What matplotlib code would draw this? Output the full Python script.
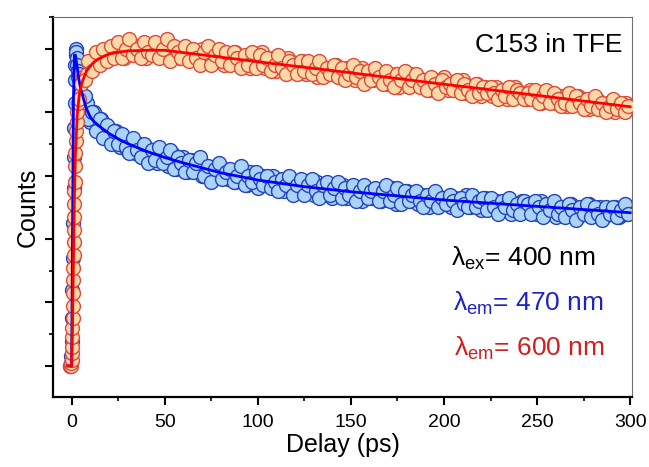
import numpy as np
import matplotlib
matplotlib.use('Agg')
import matplotlib.pyplot as plt
from matplotlib.ticker import MultipleLocator, NullFormatter

plt.rcParams['font.family'] = ['Liberation Sans', 'DejaVu Sans']
plt.rcParams['mathtext.fontset'] = 'custom'
plt.rcParams['mathtext.rm'] = 'Liberation Sans'

# ---- data (normalised counts) ----
# early time points (rise around t = 0)
blue_early_x = [-1.0, -0.6, -0.3, 0.0, 0.2, 0.4, 0.6, 0.8, 1.0, 1.2, 1.4, 1.6, 1.8,
                2.0, 2.2, 2.4, 2.6, 2.8, 3.0, 3.3, 3.6]
blue_early_y = [0.00, 0.01, 0.03, 0.08, 0.15, 0.24, 0.34, 0.45, 0.56, 0.66, 0.75, 0.83, 0.90,
                0.95, 0.98, 1.00, 0.99, 0.97, 0.95, 0.93, 0.91]
red_early_x = [-1.0, -0.6, -0.3, 0.0, 0.1, 0.2, 0.3, 0.4, 0.5, 0.6, 0.7, 0.8, 0.9, 1.0,
               1.1, 1.2, 1.3, 1.4, 1.5, 1.6, 1.8, 2.0, 2.2, 2.4, 2.7, 3.0, 3.4]
red_early_y = [0.00, 0.00, 0.01, 0.02, 0.04, 0.06, 0.09, 0.12, 0.15, 0.19, 0.23, 0.27, 0.31, 0.35,
               0.39, 0.43, 0.47, 0.51, 0.55, 0.58, 0.63, 0.67, 0.71, 0.74, 0.77, 0.80, 0.83]

# later points: even delays 4..300 ps and odd delays 5..299 ps
delay_even = np.arange(4, 301, 2)
delay_odd = np.arange(5, 300, 2)

red_even = [0.84, 0.91, 0.92, 0.96, 0.95, 0.98, 0.96, 0.99, 0.97, 1.00,
            0.98, 1.00, 0.97, 1.01, 0.99, 0.98, 1.01, 0.99, 0.97, 1.00,
            0.99, 1.01, 0.98, 0.99, 1.02, 0.98, 1.00, 0.97, 0.99, 1.00,
            0.97, 0.99, 0.96, 1.00, 0.98, 0.96, 0.99, 0.97, 0.98, 0.95,
            0.98, 0.96, 0.99, 0.95, 0.97, 0.98, 0.94, 0.97, 0.96, 0.99,
            0.94, 0.96, 0.97, 0.93, 0.96, 0.95, 0.97, 0.93, 0.95, 0.94,
            0.96, 0.92, 0.95, 0.94, 0.91, 0.95, 0.93, 0.94, 0.92, 0.95,
            0.91, 0.93, 0.94, 0.92, 0.90, 0.93, 0.94, 0.91, 0.92, 0.90,
            0.93, 0.90, 0.92, 0.89, 0.91, 0.92, 0.88, 0.91, 0.90, 0.92,
            0.89, 0.91, 0.88, 0.90, 0.87, 0.90, 0.89, 0.88, 0.91, 0.87,
            0.89, 0.87, 0.88, 0.90, 0.86, 0.88, 0.87, 0.89, 0.85, 0.88,
            0.87, 0.85, 0.88, 0.86, 0.87, 0.84, 0.86, 0.88, 0.85, 0.86,
            0.84, 0.87, 0.85, 0.86, 0.83, 0.85, 0.86, 0.84, 0.83, 0.85,
            0.85, 0.82, 0.84, 0.83, 0.85, 0.82, 0.84, 0.81, 0.83, 0.84,
            0.82, 0.81, 0.83, 0.82, 0.80, 0.82, 0.81, 0.83, 0.82]
red_odd = [0.89, 0.90, 0.96, 0.93, 0.99, 0.95, 1.00, 0.96, 1.01, 0.97,
           1.02, 0.97, 1.00, 1.03, 0.98, 1.00, 0.97, 1.02, 0.99, 0.98,
           1.02, 0.97, 1.00, 1.03, 0.96, 1.01, 0.99, 0.97, 1.01, 0.96,
           1.00, 0.97, 0.95, 0.99, 1.01, 0.95, 0.98, 1.00, 0.96, 0.99,
           0.95, 0.99, 0.97, 0.94, 0.98, 0.95, 0.99, 0.94, 0.98, 0.95,
           0.97, 0.93, 0.95, 0.98, 0.94, 0.92, 0.96, 0.95, 0.92, 0.96,
           0.93, 0.96, 0.92, 0.94, 0.96, 0.91, 0.94, 0.92, 0.95, 0.91,
           0.94, 0.90, 0.92, 0.95, 0.91, 0.93, 0.89, 0.93, 0.90, 0.94,
           0.91, 0.89, 0.93, 0.90, 0.88, 0.92, 0.90, 0.93, 0.88, 0.90,
           0.92, 0.88, 0.90, 0.87, 0.91, 0.89, 0.86, 0.90, 0.88, 0.89,
           0.87, 0.90, 0.86, 0.89, 0.87, 0.85, 0.89, 0.86, 0.88, 0.86,
           0.88, 0.86, 0.84, 0.87, 0.85, 0.88, 0.84, 0.87, 0.86, 0.84,
           0.86, 0.84, 0.87, 0.83, 0.85, 0.87, 0.83, 0.86, 0.84, 0.82,
           0.83, 0.86, 0.82, 0.85, 0.83, 0.81, 0.84, 0.82, 0.85, 0.81,
           0.83, 0.80, 0.82, 0.84, 0.81, 0.83, 0.80, 0.82]

blue_even = [0.92, 0.84, 0.83, 0.77, 0.80, 0.74, 0.78, 0.72, 0.75, 0.71,
             0.74, 0.69, 0.72, 0.68, 0.71, 0.67, 0.70, 0.66, 0.69, 0.65,
             0.68, 0.64, 0.67, 0.66, 0.63, 0.67, 0.62, 0.65, 0.66, 0.61,
             0.65, 0.62, 0.64, 0.60, 0.63, 0.61, 0.59, 0.63, 0.60, 0.62,
             0.59, 0.61, 0.58, 0.62, 0.60, 0.57, 0.61, 0.59, 0.56, 0.60,
             0.57, 0.59, 0.60, 0.56, 0.58, 0.55, 0.59, 0.57, 0.58, 0.55,
             0.58, 0.55, 0.57, 0.54, 0.58, 0.56, 0.55, 0.57, 0.53, 0.56,
             0.55, 0.57, 0.53, 0.56, 0.54, 0.55, 0.52, 0.56, 0.54, 0.53,
             0.55, 0.52, 0.54, 0.53, 0.56, 0.51, 0.54, 0.53, 0.55, 0.52,
             0.53, 0.51, 0.54, 0.52, 0.50, 0.53, 0.54, 0.51, 0.52, 0.53,
             0.50, 0.53, 0.51, 0.52, 0.54, 0.50, 0.52, 0.51, 0.49, 0.53,
             0.51, 0.50, 0.52, 0.49, 0.51, 0.52, 0.48, 0.51, 0.50, 0.52,
             0.49, 0.51, 0.50, 0.48, 0.52, 0.50, 0.49, 0.51, 0.47, 0.50,
             0.50, 0.48, 0.51, 0.49, 0.47, 0.50, 0.49, 0.51, 0.48, 0.49,
             0.50, 0.47, 0.49, 0.48, 0.50, 0.47, 0.49, 0.48, 0.49]
blue_odd = [0.86, 0.85, 0.78, 0.80, 0.74, 0.78, 0.72, 0.76, 0.70, 0.74,
            0.70, 0.73, 0.69, 0.67, 0.72, 0.68, 0.66, 0.70, 0.64, 0.68,
            0.65, 0.69, 0.64, 0.66, 0.68, 0.62, 0.66, 0.64, 0.61, 0.65,
            0.61, 0.64, 0.66, 0.60, 0.63, 0.58, 0.62, 0.64, 0.59, 0.61,
            0.62, 0.58, 0.60, 0.63, 0.57, 0.60, 0.58, 0.61, 0.59, 0.57,
            0.60, 0.56, 0.58, 0.55, 0.59, 0.57, 0.60, 0.54, 0.57, 0.59,
            0.54, 0.57, 0.59, 0.55, 0.53, 0.57, 0.58, 0.54, 0.56, 0.58,
            0.53, 0.56, 0.54, 0.57, 0.52, 0.55, 0.57, 0.53, 0.55, 0.56,
            0.52, 0.55, 0.57, 0.52, 0.54, 0.56, 0.51, 0.55, 0.52, 0.54,
            0.55, 0.52, 0.50, 0.54, 0.52, 0.55, 0.50, 0.53, 0.51, 0.54,
            0.52, 0.49, 0.53, 0.51, 0.50, 0.54, 0.50, 0.52, 0.53, 0.49,
            0.53, 0.50, 0.48, 0.52, 0.50, 0.53, 0.49, 0.51, 0.48, 0.52,
            0.51, 0.48, 0.52, 0.50, 0.47, 0.51, 0.49, 0.52, 0.48, 0.50,
            0.47, 0.51, 0.49, 0.46, 0.50, 0.48, 0.51, 0.47, 0.50, 0.48,
            0.46, 0.50, 0.48, 0.50, 0.47, 0.49, 0.51, 0.48]

# fit curves
red_fit_x = [-2, 0.0, 0.5, 1.0, 1.5, 2.0, 3.0, 4, 5, 6, 8, 10, 12, 15, 20, 25, 30,
             40, 50, 75, 100, 150, 200, 250, 300]
red_fit_y = [0, 0.0, 0.14, 0.35, 0.54, 0.66, 0.79, 0.85, 0.88, 0.90, 0.93, 0.945, 0.958,
             0.970, 0.983, 0.989, 0.993, 0.995, 0.995, 0.977, 0.959, 0.924, 0.888, 0.853, 0.817]
blue_fit_x = [-2, 0.0, 0.5, 1.0, 1.5, 2.0, 3.0, 4, 5, 6, 8, 10, 12, 15, 20, 25, 30, 40,
              50, 60, 80, 100, 125, 150, 175, 200, 250, 300]
blue_fit_y = [0, 0.0, 0.45, 0.85, 0.98, 0.98, 0.94, 0.90, 0.87, 0.85, 0.81, 0.785, 0.77,
              0.755, 0.733, 0.716, 0.701, 0.677, 0.657, 0.640, 0.609, 0.586, 0.565, 0.549,
              0.536, 0.523, 0.503, 0.483]

fig = plt.figure(figsize=(6.49, 4.67), dpi=100)
ax = fig.add_axes([0.0817, 0.1499, 0.8921, 0.8137])

bx = np.concatenate([blue_early_x, delay_even, delay_odd])
by = np.concatenate([blue_early_y, blue_even, blue_odd])
rx = np.concatenate([red_early_x, delay_even, delay_odd])
ry = np.concatenate([red_early_y, red_even, red_odd])

ax.plot(bx, by, 'o', ms=10, mfc='#a9d3f7', mec='#2643bf', mew=1.0, zorder=2)
ax.plot(rx, ry, 'o', ms=10, mfc='#fdd9a8', mec='#dc4a3c', mew=1.0, zorder=3)
ax.plot(blue_fit_x, blue_fit_y, color='#0000ff', lw=2, zorder=4)
ax.plot(red_fit_x, red_fit_y, color='#ff0000', lw=2, zorder=5)

ax.set_xlim(-10, 301)
ax.set_ylim(-0.098, 1.10)

ax.xaxis.set_major_locator(MultipleLocator(50))
ax.xaxis.set_minor_locator(MultipleLocator(25))
ax.yaxis.set_major_locator(MultipleLocator(0.2))
ax.yaxis.set_minor_locator(MultipleLocator(0.1))
ax.yaxis.set_major_formatter(NullFormatter())
ax.tick_params(which='major', direction='out', length=6, width=1.5, labelsize=14)
ax.tick_params(which='minor', direction='out', length=3, width=1.2)
ax.tick_params(axis='x', pad=6)

for s in ['left', 'bottom']:
    ax.spines[s].set_linewidth(1.6)
for s in ['top', 'right']:
    ax.spines[s].set_linewidth(0.8)
    ax.spines[s].set_color('#707070')

ax.set_xlabel('Delay (ps)', fontsize=18, labelpad=2)
ax.set_ylabel('Counts', fontsize=18, labelpad=0)

ax.text(0.983, 0.926, 'C153 in TFE', transform=ax.transAxes, ha='right', va='center', fontsize=19)
ax.text(0.687, 0.366, r'λ$_\mathregular{ex}$= 400 nm', transform=ax.transAxes,
        ha='left', va='center', fontsize=19, color='black')
ax.text(0.690, 0.247, r'λ$_\mathregular{em}$= 470 nm', transform=ax.transAxes,
        ha='left', va='center', fontsize=19, color='#1c24c4')
ax.text(0.693, 0.129, r'λ$_\mathregular{em}$= 600 nm', transform=ax.transAxes,
        ha='left', va='center', fontsize=19, color='#d01f1f')

fig.savefig('out.png', dpi=100)
